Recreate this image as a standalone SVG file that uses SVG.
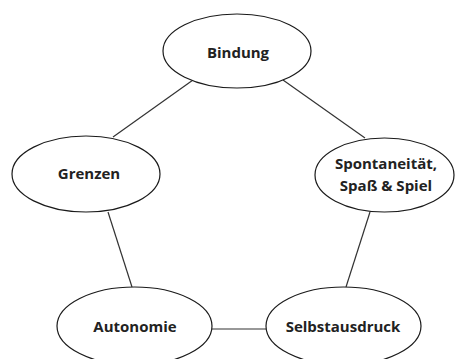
<svg xmlns="http://www.w3.org/2000/svg" width="455" height="359" viewBox="0 0 455 359">
<style>
.n{fill:#fff;stroke:#1a1a1a;stroke-width:1.2}
.c line{stroke:#333;stroke-width:1.2}
text{font-family:"Open Sans","Noto Sans",sans-serif;font-weight:bold;font-size:15px;fill:#222;text-anchor:middle;dominant-baseline:central}
</style>
<rect width="455" height="359" fill="#fff"/>
<g class="c" id="connectors">
<line x1="193" y1="80" x2="113" y2="137"/>
<line x1="283" y1="80" x2="365" y2="138"/>
<line x1="108" y1="212" x2="132" y2="287"/>
<line x1="370" y1="212" x2="346" y2="287"/>
<line x1="212" y1="329" x2="266" y2="329"/>
</g>
<g id="bindung"><ellipse class="n" cx="237" cy="51" rx="74" ry="37"/><text x="238" y="52">Bindung</text></g>
<g id="grenzen"><ellipse class="n" cx="86" cy="174" rx="74" ry="38"/><text x="89" y="173">Grenzen</text></g>
<g id="spontaneitaet"><ellipse class="n" cx="384.5" cy="175" rx="69.5" ry="37"/><text x="386" y="163">Spontaneität,</text><text x="386" y="185">Spaß &amp; Spiel</text></g>
<g id="autonomie"><ellipse class="n" cx="134.5" cy="326" rx="77.5" ry="39"/><text x="135" y="326">Autonomie</text></g>
<g id="selbstausdruck"><ellipse class="n" cx="343.5" cy="326" rx="77.5" ry="39"/><text x="343" y="326">Selbstausdruck</text></g>
</svg>
